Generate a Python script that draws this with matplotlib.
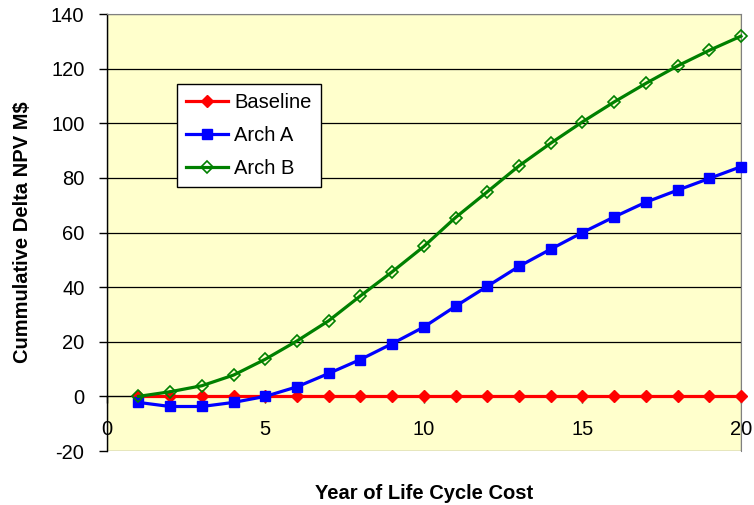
import matplotlib
matplotlib.use('Agg')
import matplotlib.pyplot as plt
import matplotlib.patches as patches

plt.rcParams['font.family'] = ['Liberation Sans', 'DejaVu Sans']
plt.rcParams['axes.unicode_minus'] = False

# Data
years = list(range(1, 21))
baseline = [0] * 20
arch_a = [-2.2, -3.7, -3.7, -2.2, 0.0, 3.5, 8.4, 13.5, 19.3, 25.4,
          33.0, 40.3, 47.6, 53.9, 60.0, 65.7, 71.1, 75.5, 79.8, 84.1]
arch_b = [0.0, 1.7, 3.9, 7.8, 13.6, 20.3, 27.7, 36.8, 45.6, 54.9,
          65.5, 74.9, 84.4, 92.7, 100.5, 107.8, 114.6, 121.0, 126.7, 131.9]
series_names = ['Baseline', 'Arch A', 'Arch B']
x_ticks = [0, 5, 10, 15, 20]
y_ticks = [-20, 0, 20, 40, 60, 80, 100, 120, 140]

fig = plt.figure(figsize=(7.54, 5.05), dpi=100)
ax = fig.add_axes([0.1415, 0.1069, 0.8412, 0.8653])
ax.set_facecolor('#FFFFCC')

ax.set_xlim(0, 20)
ax.set_ylim(-20, 140)

# horizontal gridlines
for yv in y_ticks[2:-1]:
    ax.axhline(yv, color='black', lw=0.9, zorder=1)

ax.plot(years, baseline, color='#FF0000', lw=2.3, marker='D', ms=6,
        mfc='#FF0000', mec='#FF0000', label=series_names[0], zorder=3, clip_on=False)
ax.plot(years, arch_a, color='#0000FF', lw=2.3, marker='s', ms=7.5,
        mfc='#0000FF', mec='#0000FF', label=series_names[1], zorder=4, clip_on=False)
ax.plot(years, arch_b, color='#008000', lw=2.3, marker='D', ms=6,
        mfc='none', mec='#008000', mew=1.2, label=series_names[2], zorder=5, clip_on=False)

# x axis crosses at zero, like Excel
ax.spines['bottom'].set_position(('data', 0))
ax.spines['bottom'].set_color('black')
ax.spines['bottom'].set_linewidth(1.0)
ax.spines['left'].set_color('black')
ax.spines['left'].set_linewidth(1.0)
ax.spines['top'].set_color('#808080')
ax.spines['right'].set_color('#808080')
frame = patches.Rectangle((0, 0), 1, 1, transform=ax.transAxes, fill=False,
                          edgecolor='#808080', lw=1.0, zorder=0.5)
ax.add_patch(frame)

ax.set_xticks(x_ticks)
ax.set_yticks(y_ticks)
ax.tick_params(axis='x', direction='out', length=5, width=1, pad=12, labelsize=14.5)
ax.tick_params(axis='y', direction='out', length=6, width=1, pad=10, labelsize=14.5)

ax.set_xlabel('Year of Life Cycle Cost', fontsize=14.5, fontweight='bold')
ax.xaxis.set_label_coords(0.5, -0.075)
ax.set_ylabel('Cummulative Delta NPV M$', fontsize=14.5, fontweight='bold')
ax.yaxis.set_label_coords(-0.118, 0.5)

leg = ax.legend(loc='upper left', bbox_to_anchor=(177 / 754, 1 - 84 / 505),
                bbox_transform=fig.transFigure, fontsize=14.5, frameon=True,
                fancybox=False, edgecolor='black', framealpha=1.0,
                borderaxespad=0, handlelength=2.1, labelspacing=0.7,
                handletextpad=0.3, borderpad=0.45)
leg.get_frame().set_linewidth(1.0)

plt.savefig('out.png', dpi=100)
